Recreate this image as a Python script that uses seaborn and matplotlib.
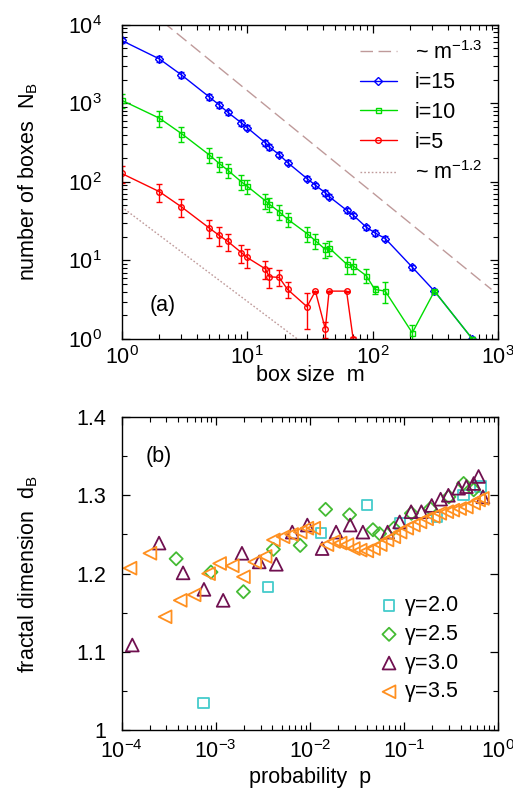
import numpy as np
import pandas as pd
import matplotlib
matplotlib.use("Agg")
import matplotlib.pyplot as plt
import seaborn as sns
from matplotlib.ticker import LogLocator, NullFormatter, MultipleLocator, FuncFormatter

# ---------------- data: panel (a) ----------------
m15 = [1, 2, 3, 5, 6, 7, 9, 10, 14, 15, 18, 21, 30, 35, 42, 45, 62, 70, 89, 104, 126, 207, 311, 624]
n15 = [6300, 3660, 2290, 1200, 950, 769, 562, 490, 313, 279, 222, 176, 110, 90.7, 72.4, 65,
       43.6, 37.7, 26.5, 22.5, 19, 8.2, 4.07, 1.0]
e15 = [520, 300, 190, 95, 75, 60, 45, 38, 25, 22, 18, 14, 9, 7, 5.8, 5.2, 3.5, 3.0, 2.1, 1.8,
       1.5, 0.6, 0.3, 0.05]

m10 = [1, 2, 3, 5, 6, 7, 9, 10, 14, 15, 18, 21, 30, 35, 42, 45, 62, 70, 89, 104, 126, 207, 311, 624]
n10 = [1092, 645, 411, 220, 171, 141, 100, 88, 57.3, 52, 41.6, 33.5, 22, 17.8, 13.8, 14.5,
       9.0, 8.5, 6.4, 4.28, 4.07, 1.2, 4.07, 1.0]
e10 = [230, 140, 90, 48, 37, 30, 22, 19, 12.5, 11, 8.5, 7, 4.6, 3.7, 3.0, 3.0, 2.2, 1.8, 1.3,
       0.5, 1.2, 0.3, 0.1, 0.05]

m5 = [1, 2, 3, 5, 6, 7, 9, 10, 14, 15, 18, 21, 30, 35, 42, 45, 62, 70]
n5 = [128, 75, 48, 25.8, 20.8, 17.5, 12.6, 10.9, 7.8, 6.2, 6.08, 4.28, 2.58, 4.07, 1.34, 4.07,
      4.07, 1.0]
e5 = [32, 20, 12.5, 6.5, 5.5, 4.5, 3.3, 2.9, 2.0, 1.8, 1.4, 1.0, 1.25, 0.05, 0.3, 0.05, 0.05, 0.05]

# power-law guides: prefactor, exponent, m range
guide13 = (29000, -1.3, 1.0, 885)
guide12 = (48, -1.2, 1.0, 25.5)

# ---------------- data: panel (b) ----------------
p20 = [7.4e-4, 3.6e-3, 0.0131, 0.0403, 0.091, 0.224, 0.428, 0.65]
d20 = [1.035, 1.183, 1.2515, 1.2875, 1.264, 1.272, 1.300, 1.311]

p25 = [3.8e-4, 8.9e-4, 1.97e-3, 4.1e-3, 7.9e-3, 0.0147, 0.0264, 0.0468, 0.055, 0.078,
       0.12, 0.19, 0.30, 0.43, 0.55]
d25 = [1.219, 1.202, 1.177, 1.231, 1.236, 1.282, 1.275, 1.256, 1.251, 1.258,
       1.277, 1.283, 1.298, 1.315, 1.307]

p30 = [1.3e-4, 2.5e-4, 4.5e-4, 7.5e-4, 1.2e-3, 1.9e-3, 2.9e-3, 4.4e-3, 6.5e-3, 9.4e-3,
       0.0135, 0.019, 0.0268, 0.0366, 0.067, 0.09, 0.119, 0.153, 0.197, 0.245, 0.296,
       0.38, 0.46, 0.55, 0.62, 0.69]
d30 = [1.109, 1.239, 1.201, 1.180, 1.166, 1.226, 1.215, 1.212, 1.253, 1.262,
       1.232, 1.253, 1.262, 1.253, 1.253, 1.266, 1.279, 1.279, 1.287, 1.295, 1.300,
       1.309, 1.311, 1.315, 1.324, 1.298]

p35 = [1.23e-4, 2.0e-4, 2.9e-4, 4.2e-4, 5.9e-4, 8.4e-4, 1.1e-3, 1.5e-3, 1.97e-3, 2.6e-3,
       3.35e-3, 4.1e-3, 5.2e-3, 6.4e-3, 7.9e-3, 9.3e-3, 0.011, 0.0152, 0.0179, 0.021,
       0.0248, 0.029, 0.0343, 0.0403, 0.0475, 0.056, 0.066, 0.078, 0.091, 0.107, 0.126,
       0.148, 0.174, 0.205, 0.24, 0.285, 0.33, 0.39, 0.46, 0.55, 0.62, 0.68]
d35 = [1.207, 1.226, 1.145, 1.166, 1.173, 1.200, 1.213, 1.210, 1.196, 1.215,
       1.222, 1.243, 1.247, 1.250, 1.253, 1.258, 1.258, 1.237, 1.241, 1.239,
       1.237, 1.232, 1.230, 1.229, 1.232, 1.237, 1.243, 1.247, 1.253, 1.258, 1.262,
       1.266, 1.270, 1.273, 1.277, 1.279, 1.281, 1.283, 1.285, 1.290, 1.294, 1.296]

# ---------------- style ----------------
sns.set_style("ticks")
plt.rcParams["font.family"] = ["Liberation Sans", "DejaVu Sans"]
plt.rcParams["mathtext.fontset"] = "custom"
plt.rcParams["mathtext.rm"] = "Liberation Sans"
plt.rcParams["mathtext.it"] = "Liberation Sans"
plt.rcParams["mathtext.default"] = "regular"
plt.rcParams["axes.linewidth"] = 1.0
plt.rcParams["text.color"] = "black"
plt.rcParams["axes.labelcolor"] = "black"
plt.rcParams["xtick.color"] = "black"
plt.rcParams["ytick.color"] = "black"
FS = 15.5

fig = plt.figure(figsize=(5.13, 7.94), dpi=100)
ax1 = fig.add_axes([0.237, 0.573, 0.734, 0.396])
ax2 = fig.add_axes([0.237, 0.080, 0.734, 0.395])

# ---------------- panel (a) ----------------
g = np.logspace(np.log10(guide13[2]), np.log10(guide13[3]), 50)
sns.lineplot(x=g, y=guide13[0] * g ** guide13[1], ax=ax1, color="#bf9a9a", lw=1.0,
             label="~ m$^{-1.3}$")
ax1.lines[-1].set_dashes((9, 4))

series = [("i=15", m15, n15, e15, "#0000ff", "D", 3.6),
          ("i=10", m10, n10, e10, "#00dd00", "s", 3.6),
          ("i=5", m5, n5, e5, "#ff0000", "o", 4.0)]
for lab, mx, ny, ey, col, mk, ms in series:
    ax1.errorbar(mx, ny, yerr=ey, fmt="none", ecolor=col, elinewidth=1.0, capsize=2.5, capthick=1.0)
    sns.lineplot(x=mx, y=ny, ax=ax1, color=col, lw=1.0, marker=mk, ms=ms, mfc="none", mec=col,
                 mew=1.0, label=lab, sort=False)

g = np.logspace(np.log10(guide12[2]), np.log10(guide12[3]), 50)
sns.lineplot(x=g, y=guide12[0] * g ** guide12[1], ax=ax1, color="#bf9a9a", lw=1.0,
             label="~ m$^{-1.2}$")
ax1.lines[-1].set_dashes((1.2, 1.5))

ax1.set_xscale("log")
ax1.set_yscale("log")
ax1.set_xlim(1, 1000)
ax1.set_ylim(1, 1e4)
ax1.set_xlabel("box size  m", fontsize=FS, labelpad=-3)
ax1.set_ylabel("number of boxes  N$_B$", fontsize=FS, labelpad=20)
ax1.text(0.075, 0.09, "(a)", transform=ax1.transAxes, fontsize=FS)
ax1.legend(loc="upper right", bbox_to_anchor=(1.01, 1.01), frameon=False, fontsize=FS,
           handlelength=1.7, handletextpad=0.85, labelspacing=0.40)

# ---------------- panel (b) ----------------
pts = [("$\\gamma$=2.0", p20, d20, "#44cccc", "s", 55),
       ("$\\gamma$=2.5", p25, d25, "#44bb33", "D", 45),
       ("$\\gamma$=3.0", p30, d30, "#701050", "^", 85),
       ("$\\gamma$=3.5", p35, d35, "#ff9020", "<", 85)]
for lab, px, dy, col, mk, s in pts:
    sns.scatterplot(x=px, y=dy, ax=ax2, marker=mk, s=s, facecolor="none", edgecolor=col,
                    linewidth=1.3, label=lab)

ax2.set_xscale("log")
ax2.set_xlim(1e-4, 1)
ax2.set_ylim(1.0, 1.4)
ax2.yaxis.set_major_locator(MultipleLocator(0.1))
ax2.yaxis.set_minor_locator(MultipleLocator(0.05))
ax2.yaxis.set_major_formatter(FuncFormatter(lambda v, pos: "%g" % round(v, 2)))
ax2.set_xlabel("probability  p", fontsize=FS, labelpad=3)
ax2.set_ylabel("fractal dimension  d$_B$", fontsize=FS, labelpad=26)
ax2.text(0.065, 0.855, "(b)", transform=ax2.transAxes, fontsize=FS)
ax2.legend(loc="lower right", bbox_to_anchor=(0.935, 0.035), frameon=False, fontsize=FS,
           handlelength=0.7, handletextpad=0.35, labelspacing=0.22, borderpad=0.2)

for ax in (ax1, ax2):
    ax.tick_params(which="both", direction="in", top=True, right=True, labelsize=FS)
    ax.tick_params(which="major", length=6, width=0.9, pad=5)
    ax.tick_params(which="minor", length=3.5, width=0.8)
    ax.xaxis.set_minor_locator(LogLocator(base=10, subs=np.arange(2, 10), numticks=20))
    ax.xaxis.set_minor_formatter(NullFormatter())
    for sp in ax.spines.values():
        sp.set_visible(True)
        sp.set_color("black")
ax1.yaxis.set_minor_locator(LogLocator(base=10, subs=np.arange(2, 10), numticks=20))
ax1.yaxis.set_minor_formatter(NullFormatter())
ax1.tick_params(axis="y", which="major", pad=14)
ax2.tick_params(axis="y", which="major", pad=11)
ax2.tick_params(axis="x", which="major", pad=7)

fig.savefig("out.png", dpi=100)
